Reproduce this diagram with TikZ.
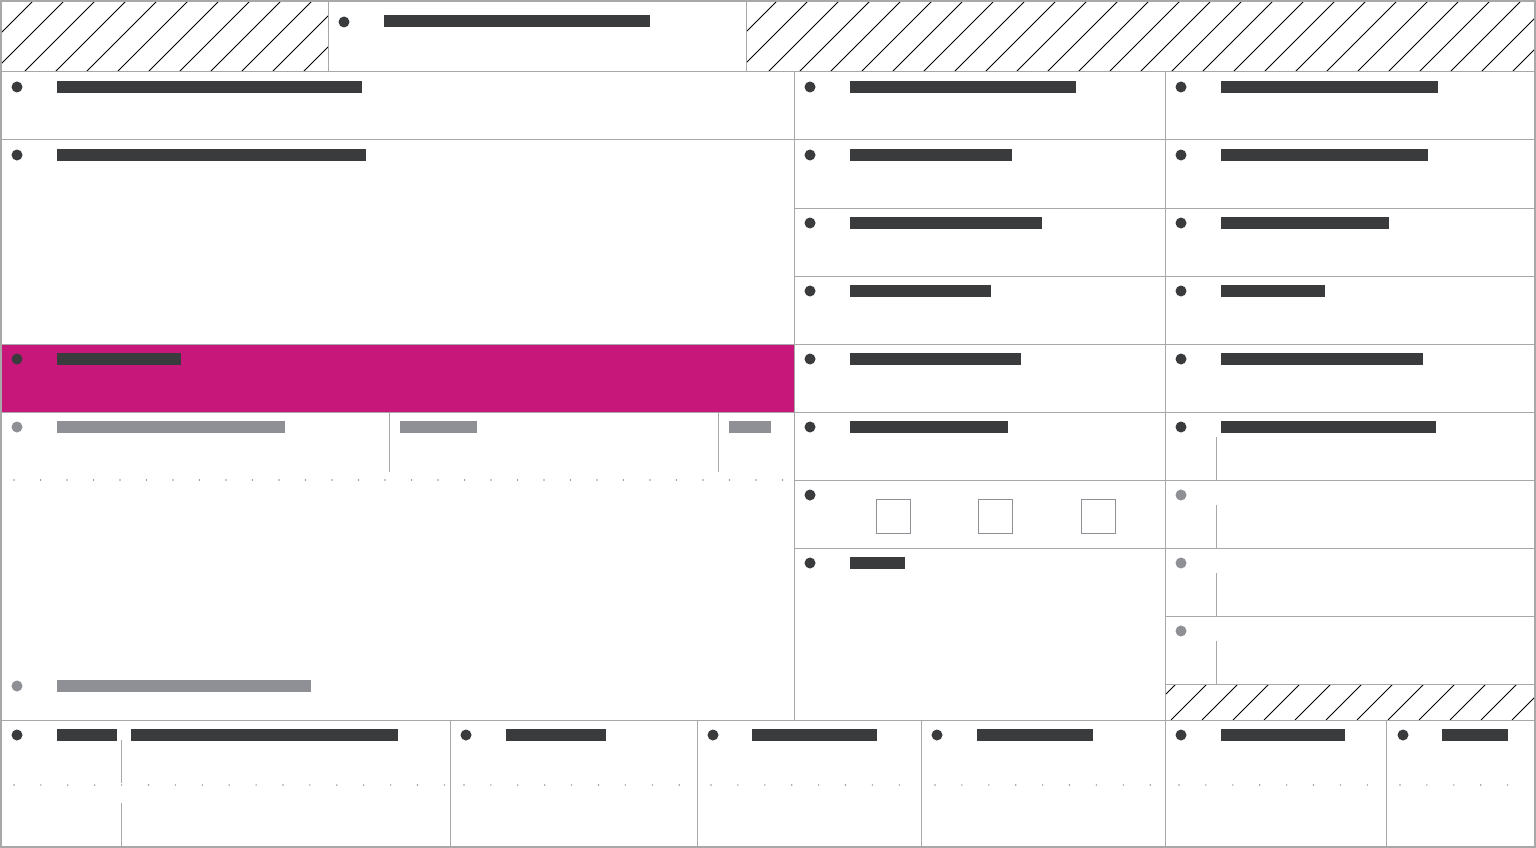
\documentclass[tikz,border=0pt]{standalone}
\begin{document}
\begin{tikzpicture}[x=1pt,y=-1pt,
 ln/.style={draw=lg,line width=1pt}]
\definecolor{dk}{HTML}{3A3B3D}\definecolor{gy}{HTML}{8E9096}
\definecolor{pk}{HTML}{C8177B}\definecolor{lg}{HTML}{A8A8A8}
\useasboundingbox (0,0) rectangle (1536,848);
\fill[white] (0,0) rectangle (1536,848);
\fill[pk] (0,344) rectangle (794,412);
% hatches
\newcommand{\myhatch}[4]{\begin{scope}\clip (#1,#2) rectangle (#3,#4);
 \foreach \s in {-100,-69,...,1700} \draw[line width=1pt] (\s,#4) -- ++(#4-#2,-#4+#2);
 \end{scope}}
\myhatch{0}{0}{328}{72}
\myhatch{746}{0}{1536}{72}
\myhatch{1165}{684}{1536}{720}
% lines
\draw[ln] (0,72)--(1536,72) (0,140)--(1536,140) (794,208)--(1536,208) (794,276)--(1536,276)
 (0,344)--(1536,344) (0,412)--(1536,412) (794,480)--(1536,480) (794,548)--(1536,548)
 (1165,616)--(1536,616) (1165,684)--(1536,684) (0,720)--(1536,720);
\draw[ln] (328,0)--(328,72) (746,0)--(746,72) (794,72)--(794,720) (1165,72)--(1165,848);
\foreach \x in {450,697,921,1386} \draw[ln] (\x,720)--(\x,848);
\draw[ln] (121,740)--(121,783) (121,803)--(121,848) (389,412)--(389,472) (718,412)--(718,472);
\foreach \y in {437,505,573,641} \draw[ln] (1216,\y)--++(0,43);
\foreach \x in {876,978,1081} \draw[draw=gy,line width=1pt] (\x,499) rectangle ++(34,34);
% dotted
\foreach \x in {14,40.5,...,790} \fill[gy] (\x,480) circle (0.8);
\foreach \a/\b in {0/450,450/697,697/921,921/1165,1165/1386,1386/1536}{
 \pgfmathsetmacro{\xa}{\a+14}\pgfmathsetmacro{\xb}{\a+40.9}\pgfmathsetmacro{\xc}{\b-4}
 \foreach \x in {\xa,\xb,...,\xc} \fill[gy] (\x,785) circle (0.8);}
\draw[lg,line width=2.5pt] (1,1) rectangle (1535,847);
% bars
\newcommand{\bbar}[4][dk]{\fill[#1] (#2,#4-6) rectangle (#3,#4+6);}
\newcommand{\ddt}[3][dk]{\fill[#1] (#2,#3) circle (5.5);}
\ddt{344}{22}\bbar{384}{650}{21}
\ddt{17}{87}\bbar{57}{362}{87}\ddt{810}{87}\bbar{850}{1076}{87}\ddt{1181}{87}\bbar{1221}{1438}{87}
\ddt{17}{155}\bbar{57}{366}{155}\ddt{810}{155}\bbar{850}{1012}{155}\ddt{1181}{155}\bbar{1221}{1428}{155}
\ddt{810}{223}\bbar{850}{1042}{223}\ddt{1181}{223}\bbar{1221}{1389}{223}
\ddt{810}{291}\bbar{850}{991}{291}\ddt{1181}{291}\bbar{1221}{1325}{291}
\ddt{17}{359}\bbar{57}{181}{359}\ddt{810}{359}\bbar{850}{1021}{359}\ddt{1181}{359}\bbar{1221}{1423}{359}
\ddt[gy]{17}{427}\bbar[gy]{57}{285}{427}\bbar[gy]{400}{477}{427}\bbar[gy]{729}{771}{427}
\ddt{810}{427}\bbar{850}{1008}{427}\ddt{1181}{427}\bbar{1221}{1436}{427}
\ddt{810}{495}\ddt[gy]{1181}{495}
\ddt{810}{563}\bbar{850}{905}{563}\ddt[gy]{1181}{563}
\ddt[gy]{1181}{631}
\ddt[gy]{17}{686}\bbar[gy]{57}{311}{686}
\ddt{17}{735}\bbar{57}{117}{735}\bbar{131}{398}{735}
\ddt{466}{735}\bbar{506}{606}{735}\ddt{713}{735}\bbar{752}{877}{735}
\ddt{937}{735}\bbar{977}{1093}{735}\ddt{1181}{735}\bbar{1221}{1345}{735}
\ddt{1403}{735}\bbar{1442}{1508}{735}
\end{tikzpicture}
\end{document}
